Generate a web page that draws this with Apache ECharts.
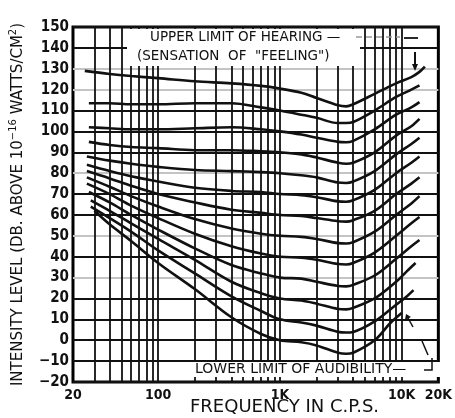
<!DOCTYPE html>
<html>
<head>
<meta charset="utf-8">
<script src="https://cdn.jsdelivr.net/npm/echarts@6/dist/echarts.min.js"></script>
<style>
html,body{margin:0;padding:0;background:#fff;}
#chart{width:455px;height:418px;}
</style>
</head>
<body>
<div id="chart"></div>
<script>
// equal loudness curves, [frequency c.p.s., intensity level db]
const c120 = [[25,129],[40,127.5],[60,126.5],[100,125.5],[200,124],[400,123],[700,121.8],[1000,120.5],[1500,118.5],[2000,116],[3000,112.5],[3500,112],[4000,113],[6000,118],[9000,123],[12000,126],[14000,128.5],[15500,131]];
const c110 = [[27,113.5],[40,113.5],[60,113],[100,113],[200,113.5],[400,113.5],[700,111.5],[1000,110],[1500,108],[2000,106.5],[3000,104],[3500,104],[4000,104.5],[6000,110],[9000,116.5],[12000,120],[14000,122]];
const c100 = [[27,102],[40,101.5],[60,101],[100,101],[200,101.5],[400,102],[700,101],[1000,100],[1500,98.5],[2000,97],[3000,95],[3500,94.8],[4000,95.5],[6000,101],[9000,108],[12000,111.5],[14000,114]];
const c90 = [[27,95],[40,93.5],[60,92.5],[100,92],[200,91],[400,91],[700,90.5],[1000,90],[1500,89],[2000,87.5],[3000,85],[3500,84.5],[4000,85],[6000,90],[9000,98],[12000,102.5],[14000,106]];
const c80 = [[26,88],[40,86],[60,84.5],[100,83],[200,81.5],[400,81],[700,80.5],[1000,80],[1500,79],[2000,78],[3000,75.5],[3500,75.3],[4000,76],[6000,81],[9000,89],[12000,94],[14000,97]];
const c70 = [[26,84],[40,81],[60,78.5],[100,76],[200,73],[400,71.5],[700,71],[1000,70],[1500,69.5],[2000,68.5],[3000,66.5],[3500,66.3],[4000,67],[6000,72],[9000,80],[12000,85],[14000,88]];
const c60 = [[26,81],[40,77.5],[60,74],[100,70],[200,66],[400,62.5],[700,61],[1000,60],[1500,59.5],[2000,58.5],[3000,57],[3500,56.8],[4000,57.5],[6000,62],[9000,70],[12000,75],[14000,78]];
const c50 = [[26,78],[40,73.5],[60,69],[100,64],[200,58],[400,53.5],[700,51],[1000,50],[1500,49.5],[2000,48.5],[3000,46.5],[3500,46.3],[4000,47],[6000,52],[9000,60],[12000,65.5],[14000,69]];
const c40 = [[26,75],[40,70],[60,64.5],[100,58.5],[200,51],[400,45],[700,41.5],[1000,40],[1500,39.5],[2000,38.5],[3000,36.5],[3500,36.3],[4000,37],[6000,42],[9000,50],[12000,56],[14000,59]];
const c30 = [[27,71],[40,66],[60,60],[100,53],[200,44],[400,36],[700,32],[1000,30],[1500,29.5],[2000,28],[3000,26],[3500,25.8],[4000,26.5],[6000,31],[9000,39],[12000,45],[14000,48]];
const c20 = [[28,67],[40,62],[60,56],[100,48.5],[200,38.5],[400,28],[700,22.5],[1000,20],[1500,19],[2000,17.5],[3000,15],[3500,14.8],[4000,15.5],[6000,20],[9000,28],[11000,33],[13000,37]];
const c10 = [[28,64],[40,58.5],[60,52],[100,43],[200,32],[400,21],[700,14],[1000,10],[1500,8.5],[2000,7],[3000,4],[3500,3.7],[4000,4],[6000,9],[9000,17],[11000,21],[12500,24]];
const c0 = [[30,62],[40,55.5],[60,47.5],[100,37],[200,24.5],[400,11],[700,3],[1000,0],[1500,-1],[2000,-2.5],[3000,-6],[3500,-6.5],[4000,-6],[6000,0],[8000,8],[10000,13]];

const curves = [c120, c110, c100, c90, c80, c70, c60, c50, c40, c30, c20, c10, c0];
const xTicks = [20, 100, 1000, 10000, 20000];
const gridFreqs = [30,40,50,60,70,80,90,100,200,300,400,500,600,700,800,900,1000,2000,3000,4000,5000,6000,7000,8000,9000,10000];

const ink = '#111';
const font = "'Liberation Sans Narrow','DejaVu Sans Condensed','Liberation Sans',sans-serif";
const wide = "'DejaVu Sans',sans-serif";
// some of the printed rulings came out faint in the scan (index 0 = -20)
const rowColors = [ink,ink,ink,ink,ink,'#c4c4c4',ink,'#c4c4c4',ink,ink,'#c4c4c4',ink,ink,ink,'#c4c4c4','#c4c4c4',ink,ink];

const chart = echarts.init(document.getElementById('chart'));

const series = curves.map(function (c, i) {
  const s = {
    type: 'line',
    data: c,
    showSymbol: false,
    smooth: 0.35,
    silent: true,
    animation: false,
    lineStyle: {color: ink, width: 2.6}
  };
  if (i === 0) {
    s.markLine = {
      silent: true,
      symbol: 'none',
      animation: false,
      label: {show: false},
      lineStyle: {color: ink, width: 1.8, type: 'solid'},
      data: gridFreqs.map(function (f) { return {xAxis: f}; })
    };
  }
  return s;
});

chart.setOption({
  backgroundColor: '#fff',
  animation: false,
  grid: {
    left: 63, right: 12, top: 27, bottom: 36,
    show: true, borderColor: '#000', borderWidth: 3
  },
  xAxis: {
    type: 'log',
    logBase: 10,
    min: 20,
    max: 20000,
    axisLine: {show: false},
    axisTick: {show: false},
    splitLine: {show: false},
    axisLabel: {
      customValues: xTicks,
      margin: 6,
      color: ink,
      fontSize: 14,
      fontWeight: 'bold',
      fontFamily: font,
      formatter: function (v) { return v >= 1000 ? (v / 1000) + 'K' : String(v); }
    }
  },
  yAxis: {
    type: 'value',
    min: -20,
    max: 150,
    interval: 10,
    axisLine: {show: false},
    axisTick: {show: false},
    splitLine: {show: true, lineStyle: {color: rowColors, width: 1.8}},
    axisLabel: {
      margin: 4,
      color: ink,
      fontSize: 15,
      fontWeight: 'bold',
      fontFamily: font,
      formatter: function (v) { return v < 0 ? '\u2212' + (-v) : String(v); }
    },
    name: 'INTENSITY LEVEL (DB. ABOVE 10{s|\u221216} WATTS/CM{s|2})',
    nameLocation: 'middle',
    nameRotate: 90,
    nameGap: 44,
    nameTextStyle: {
      color: ink,
      fontSize: 15,
      lineHeight: 20,
      fontFamily: wide,
      rich: {s: {fontSize: 10, lineHeight: 10, verticalAlign: 'top', color: ink, fontFamily: wide}}
    }
  },
  graphic: [
    {type: 'rect', z: 100, shape: {x: 127, y: 29, width: 233, height: 37}, style: {fill: '#fff'}},
    {type: 'text', z: 101, x: 150, y: 30, style: {text: 'UPPER LIMIT OF HEARING \u2014', fill: ink, font: "13.5px " + wide}},
    {type: 'text', z: 101, x: 137, y: 49, style: {text: '(SENSATION  OF  "FEELING")', fill: ink, font: "13.5px " + wide}},
    {type: 'line', z: 101, shape: {x1: 356, y1: 37, x2: 400, y2: 37}, style: {stroke: '#999', lineWidth: 1.5, lineDash: [6, 4]}},
    {type: 'line', z: 101, shape: {x1: 404, y1: 38, x2: 418, y2: 38}, style: {stroke: ink, lineWidth: 1.8}},
    {type: 'line', z: 101, shape: {x1: 415, y1: 52, x2: 415, y2: 65}, style: {stroke: ink, lineWidth: 2}},
    {type: 'polygon', z: 101, shape: {points: [[412, 64], [418, 64], [415, 71]]}, style: {fill: ink}},
    {type: 'rect', z: 100, shape: {x: 192, y: 362, width: 249, height: 15}, style: {fill: '#fff'}},
    {type: 'text', z: 101, x: 195, y: 362, style: {text: 'LOWER LIMIT OF AUDIBILITY\u2014', fill: ink, font: "14px " + wide}},
    {type: 'polyline', z: 101, shape: {points: [[424, 370], [432, 370], [432, 358]]}, style: {stroke: ink, lineWidth: 1.5, fill: null}},
    {type: 'line', z: 101, shape: {x1: 428, y1: 355, x2: 422, y2: 341}, style: {stroke: ink, lineWidth: 1.5}},
    {type: 'line', z: 101, shape: {x1: 413, y1: 327, x2: 408, y2: 318}, style: {stroke: ink, lineWidth: 1.5}},
    {type: 'polygon', z: 101, shape: {points: [[405, 320], [411, 317], [406, 314]]}, style: {fill: ink}},
    {type: 'text', z: 101, x: 190, y: 398, style: {text: 'FREQUENCY IN C.P.S.', fill: ink, font: "18px " + wide}}
  ],
  series: series
});
</script>
</body>
</html>
